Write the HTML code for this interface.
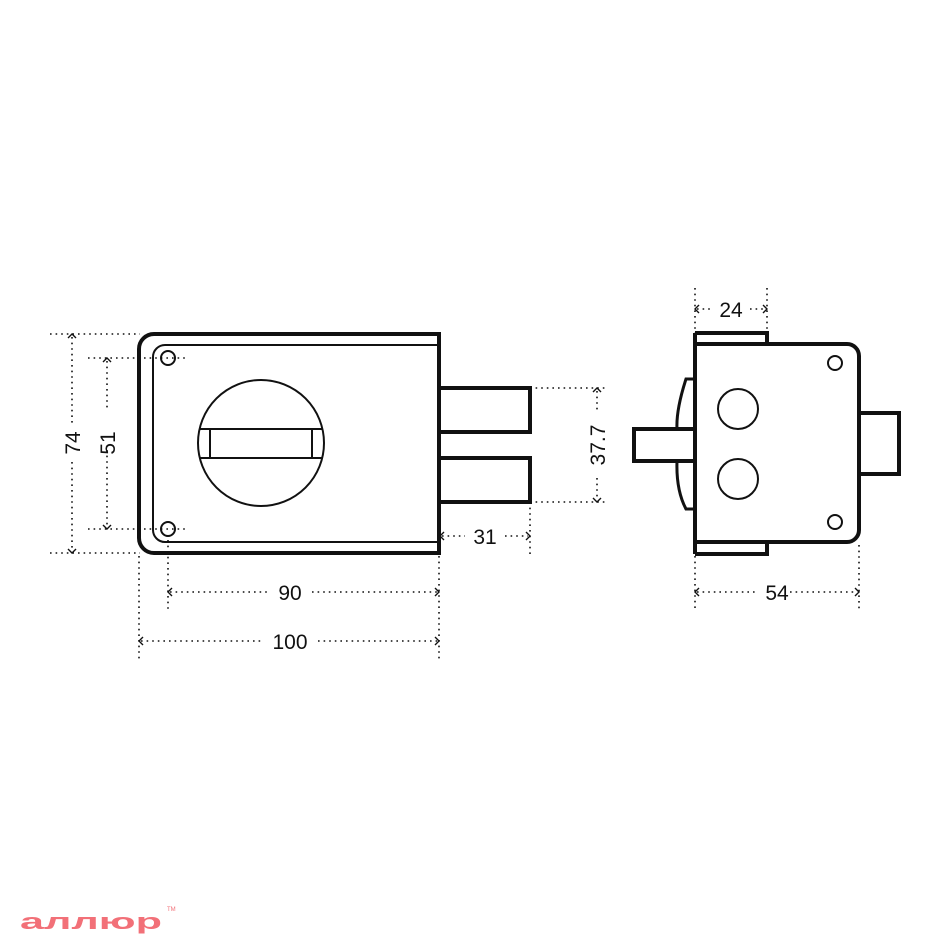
<!DOCTYPE html>
<html><head><meta charset="utf-8"><style>html,body{margin:0;padding:0;background:#fff}svg{display:block}</style></head>
<body>
<svg width="950" height="950" viewBox="0 0 950 950" xmlns="http://www.w3.org/2000/svg" font-family="Liberation Sans, sans-serif">
<g fill="none" stroke="#111">
 <!-- front view -->
 <path d="M439,334 H154 A15,15 0 0 0 139,349 V538 A15,15 0 0 0 154,553 H439 Z" stroke-width="4"/>
 <path d="M437,345 H165 A12,12 0 0 0 153,357 V530 A12,12 0 0 0 165,542 H437" stroke-width="2"/>
 <circle cx="168" cy="358" r="7" stroke-width="2"/>
 <circle cx="168" cy="529" r="7" stroke-width="2"/>
 <circle cx="261" cy="443" r="63" stroke-width="2"/>
 <path d="M199,429 H323 M199,458 H323 M210,429 V458 M312,429 V458" stroke-width="2"/>
 <path d="M439,388 H530 V432 H439 M439,458 H530 V502 H439" stroke-width="4"/>
 <!-- side view -->
 <path d="M695,344 H847 A12,12 0 0 1 859,356 V530 A12,12 0 0 1 847,542 H695 Z" stroke-width="4"/>
 <path d="M695,333 H767 V344 M695,554 H767 V542 M695,333 V554" stroke-width="4"/>
 <circle cx="738" cy="409" r="20" stroke-width="2"/>
 <circle cx="738" cy="479" r="20" stroke-width="2"/>
 <circle cx="835" cy="363" r="7" stroke-width="2"/>
 <circle cx="835" cy="522" r="7" stroke-width="2"/>
 <path d="M859,413 H899 V474 H859" stroke-width="4"/>
 <path d="M695,429 H634 V461 H695" stroke-width="4"/>
 <path d="M695,379 H686 Q676,410 677,429 M677,461 Q676,490 686,509 H695" stroke-width="3"/>
</g>
<g fill="none" stroke="#111" stroke-width="1.6" stroke-dasharray="1.6 4">
 <path d="M50,334 H140 M50,553 H140 M72,337 V425 M72,462 V550"/>
 <path d="M88,358 H185 M88,529 H185 M107,361 V410 M107,450 V526"/>
 <path d="M530,388 H605 M530,502 H605 M597,391 V410 M597,478 V499"/>
 <path d="M442,536 H465 M505,536 H528 M530,502 V556"/>
 <path d="M168,540 V612 M139,556 V660 M439,556 V660"/>
 <path d="M170,592 H268 M312,592 H437 M141,641 H262 M318,641 H437"/>
 <path d="M695,288 V333 M767,288 V333 M697,309 H712 M750,309 H765"/>
 <path d="M695,556 V612 M859,545 V612 M697,592 H755 M790,592 H857"/>
</g>
<g fill="none" stroke="#111" stroke-width="1.4">
 <path d="M76,338 L72,334 L68,338 M76,549 L72,553 L68,549"/>
 <path d="M111,362 L107,358 L103,362 M111,525 L107,529 L103,525"/>
 <path d="M601,392 L597,388 L593,392 M601,498 L597,502 L593,498"/>
 <path d="M444,532 L440,536 L444,540 M526,532 L530,536 L526,540"/>
 <path d="M172,588 L168,592 L172,596 M435,588 L439,592 L435,596"/>
 <path d="M143,637 L139,641 L143,645 M435,637 L439,641 L435,645"/>
 <path d="M699,305 L695,309 L699,313 M763,305 L767,309 L763,313"/>
 <path d="M699,588 L695,592 L699,596 M855,588 L859,592 L855,596"/>
</g>
<g fill="#111" font-size="21" text-anchor="middle">
 <text x="290" y="600">90</text>
 <text x="290" y="649">100</text>
 <text x="485" y="544">31</text>
 <text x="731" y="317">24</text>
 <text x="777" y="600">54</text>
 <text transform="translate(80,443) rotate(-90)">74</text>
 <text transform="translate(115,443) rotate(-90)">51</text>
 <text transform="translate(605,445) rotate(-90)">37.7</text>
</g>
<text x="20" y="929" font-size="22" font-weight="bold" fill="#f27078" textLength="142" lengthAdjust="spacingAndGlyphs">аллюр</text>
<text x="167" y="911" font-size="6" fill="#f27078">TM</text>
</svg>
</body></html>
